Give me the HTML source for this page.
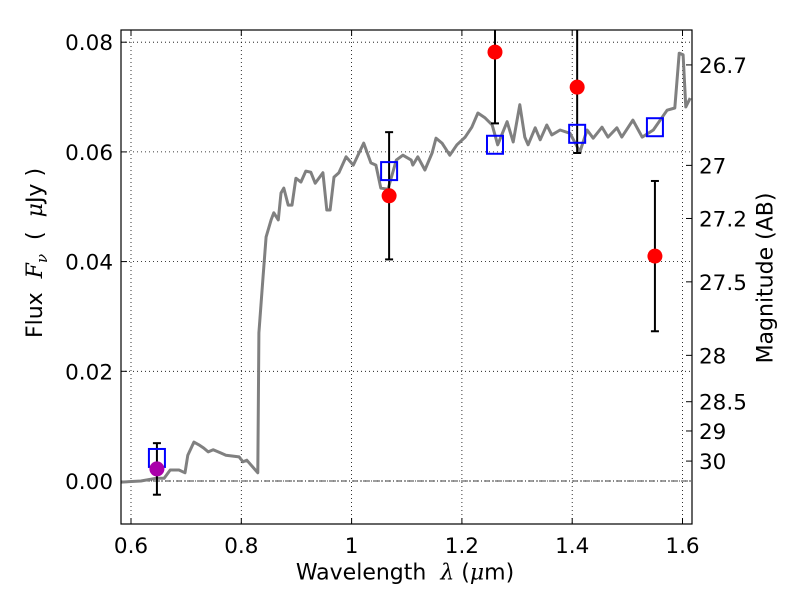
<!DOCTYPE html>
<html><head><meta charset="utf-8"><style>
html,body{margin:0;padding:0;background:#fff;}
svg{display:block;font-family:"DejaVu Sans","Liberation Sans",sans-serif;}
</style></head><body>
<svg id="chart" width="800" height="600" viewBox="0 0 800 600"><defs><clipPath id="pc"><rect x="121" y="30" width="571" height="494"/></clipPath></defs></svg>
<script>
const specWave=[0.582,0.618,0.645,0.660,0.671,0.687,0.698,0.703,0.714,0.723,0.732,0.740,0.749,0.763,0.772,0.796,0.803,0.810,0.830,0.832,0.839,0.845,0.854,0.859,0.867,0.872,0.877,0.885,0.892,0.899,0.908,0.917,0.926,0.934,0.948,0.955,0.961,0.968,0.977,0.990,1.003,1.022,1.035,1.044,1.053,1.066,1.081,1.093,1.108,1.111,1.120,1.133,1.146,1.153,1.164,1.178,1.191,1.206,1.218,1.229,1.242,1.255,1.265,1.282,1.293,1.305,1.314,1.320,1.333,1.342,1.354,1.363,1.378,1.396,1.414,1.427,1.438,1.454,1.465,1.481,1.490,1.510,1.527,1.547,1.572,1.586,1.594,1.601,1.606,1.614];
const specFlux=[-0.0002,0,0.0005,0.0005,0.0020,0.0020,0.0015,0.0047,0.0071,0.0066,0.0060,0.0053,0.0057,0.0051,0.0047,0.0044,0.0035,0.0038,0.0015,0.0270,0.0366,0.0445,0.0476,0.0489,0.0476,0.0525,0.0534,0.0503,0.0503,0.0552,0.0545,0.0565,0.0563,0.0543,0.0562,0.0494,0.0494,0.0554,0.0562,0.0591,0.0576,0.0616,0.0580,0.0576,0.0534,0.0532,0.0585,0.0594,0.0585,0.0576,0.0591,0.0567,0.0598,0.0625,0.0616,0.0594,0.0613,0.0627,0.0645,0.0671,0.0662,0.0649,0.0613,0.0655,0.0618,0.0686,0.0627,0.0613,0.0644,0.0622,0.0649,0.0631,0.0640,0.0634,0.0600,0.0640,0.0625,0.0645,0.0627,0.0644,0.0627,0.0658,0.0627,0.0640,0.0676,0.0680,0.0780,0.0777,0.0682,0.0698];
const obsWave=[1.068,1.260,1.409,1.550];
const obsFlux=[0.0520,0.0782,0.0718,0.0410];
const obsErr=[0.0116,0.0130,0.0120,0.0137];
const purpleWave=[0.647];
const purpleFlux=[0.0022];
const purpleErr=[0.0047];
const modelWave=[0.647,1.068,1.260,1.409,1.550];
const modelFlux=[0.0042,0.0565,0.0613,0.0633,0.0645];
const xTicks=[0.6,0.8,1.0,1.2,1.4,1.6];
const xTickLabels=["0.6","0.8","1","1.2","1.4","1.6"];
const yTicks=[0,0.02,0.04,0.06,0.08];
const yTickLabels=["0.00","0.02","0.04","0.06","0.08"];
const magTicks=[26.7,27,27.2,27.5,28,28.5,29,30];
const magLabels=["26.7","27","27.2","27.5","28","28.5","29","30"];

const L=121,R=692,T=30,B=524;
const X=v=>131+(v-0.6)*551.5;
const Y=v=>481-v*5485;
const svg=document.getElementById('chart');
const NS='http://www.w3.org/2000/svg';
function mk(tag,attrs,parent){const e=document.createElementNS(NS,tag);for(const k in attrs)e.setAttribute(k,attrs[k]);(parent||svg).appendChild(e);return e;}

xTicks.forEach((v,i)=>{
  const g=mk('line',{x1:X(v),x2:X(v),y1:T,y2:B,stroke:'#000','stroke-width':0.8,'stroke-dasharray':'1,3'});
  
  
  const t=mk('line',{x1:X(v),x2:X(v),y1:B,y2:B-6,stroke:'#000'});
  
  
  const t2=mk('line',{x1:X(v),x2:X(v),y1:T,y2:T+6,stroke:'#000'});
  
  
  const lb=mk('text',{x:X(v),y:553,'font-size':21.5,'text-anchor':'middle'});
  lb.textContent=xTickLabels[i];
  
  
});
yTicks.forEach((v,i)=>{
  const g=mk('line',{x1:L,x2:R,y1:Y(v),y2:Y(v),stroke:'#000','stroke-width':0.8,'stroke-dasharray':'1,3'});
  
  
  const t=mk('line',{x1:L,x2:L+6,y1:Y(v),y2:Y(v),stroke:'#000'});
  
  
  const lb=mk('text',{x:113,y:Y(v)+8,'font-size':21.5,'text-anchor':'end'});
  lb.textContent=yTickLabels[i];
  
  
});
const z=mk('line',{x1:L,x2:R,y1:Y(0),y2:Y(0),stroke:'#000','stroke-width':0.7,'stroke-dasharray':'6,2,1,2'});


magTicks.forEach((m,i)=>{
  const f=Math.pow(10,(23.9-m)/2.5);
  const t=mk('line',{x1:R-6,x2:R,y1:Y(f),y2:Y(f),stroke:'#000'});
  
  
  const lb=mk('text',{x:699,y:Y(f)+8,'font-size':21.5});
  lb.textContent=magLabels[i];
  
  
});
const plot=mk('g',{'clip-path':'url(#pc)'});


const pts=specWave.map((w,i)=>X(w).toFixed(1)+','+Y(specFlux[i]).toFixed(1)).join(' ');
const sp=mk('polyline',{points:pts,fill:'none',stroke:'#808080','stroke-width':3,'stroke-linejoin':'round'},plot);


function errs(ws,fs,es,name){
  ws.forEach((w,i)=>{
    const x=X(w),y1=Y(fs[i]+es[i]),y2=Y(fs[i]-es[i]);
    const g=mk('g',{},plot);
    
    
    mk('line',{x1:x,x2:x,y1:y1,y2:y2,stroke:'#000','stroke-width':2},g);
    mk('line',{x1:x-4,x2:x+4,y1:y1,y2:y1,stroke:'#000','stroke-width':2},g);
    mk('line',{x1:x-4,x2:x+4,y1:y2,y2:y2,stroke:'#000','stroke-width':2},g);
  });
}
errs(obsWave,obsFlux,obsErr,'observed');
errs(purpleWave,purpleFlux,purpleErr,'optical');
modelWave.forEach((w,i)=>{
  const r=mk('rect',{x:X(w)-8,y:Y(modelFlux[i])-9,width:16,height:18,fill:'none',stroke:'#0000ff','stroke-width':2},plot);
  
  
});
obsWave.forEach((w,i)=>{
  const c=mk('circle',{cx:X(w),cy:Y(obsFlux[i]),r:7.5,fill:'#ff0000'},plot);
  
  
});
purpleWave.forEach((w,i)=>{
  const c=mk('circle',{cx:X(w),cy:Y(purpleFlux[i]),r:7.5,fill:'#aa00aa'},plot);
  
  
});
const fr=mk('rect',{x:L,y:T,width:R-L,height:B-T,fill:'none',stroke:'#000','stroke-width':1.2});


</script>
<div style="position:absolute;left:0;top:0;width:800px;height:600px;pointer-events:none;font-family:'DejaVu Sans','Liberation Sans',sans-serif;">
<div style="position:absolute;left:405px;top:573px;font-size:22px;white-space:nowrap;transform:translate(-50%,-50%);">Wavelength&nbsp;&nbsp;<i style="font-family:'DejaVu Serif',serif">λ</i>&nbsp;(<i style="font-family:'DejaVu Serif',serif">μ</i>m)</div>
<div style="position:absolute;left:37px;top:253px;font-size:22px;white-space:nowrap;transform:translate(-50%,-50%) rotate(-90deg);">Flux&nbsp;&nbsp;<i style="font-family:'DejaVu Serif',serif">F<sub style="font-size:15px">ν</sub></i>&nbsp;&nbsp;(&nbsp;&nbsp;<i style="font-family:'DejaVu Serif',serif">μ</i>Jy )</div>
<div style="position:absolute;left:766px;top:278px;font-size:22px;white-space:nowrap;transform:translate(-50%,-50%) rotate(-90deg);">Magnitude (AB)</div>
</div>
</body></html>
